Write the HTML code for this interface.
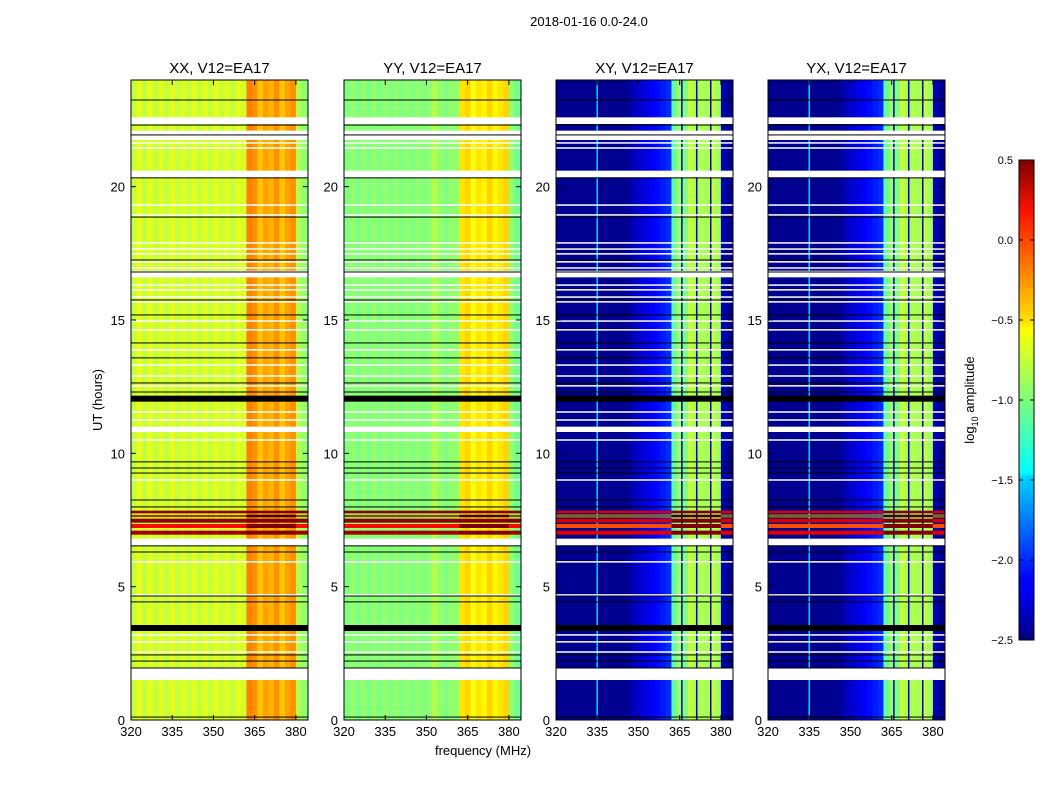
<!DOCTYPE html>
<html><head><meta charset="utf-8"><style>
body{margin:0;background:#fff;}
svg{display:block;font-family:"Liberation Sans",sans-serif;}
</style></head><body>
<svg id="fig" width="1050" height="800" viewBox="0 0 1050 800" xmlns="http://www.w3.org/2000/svg">
<defs>
<linearGradient id="jet" x1="0" y1="1" x2="0" y2="0">
<stop offset="0" stop-color="#00007f"/><stop offset="0.11" stop-color="#0000ff"/><stop offset="0.125" stop-color="#0000ff"/>
<stop offset="0.34" stop-color="#00d4ff"/><stop offset="0.35" stop-color="#0ff"/><stop offset="0.5" stop-color="#7dff7a"/>
<stop offset="0.65" stop-color="#ff0"/><stop offset="0.66" stop-color="#ffe600"/><stop offset="0.89" stop-color="#ff1300"/>
<stop offset="1" stop-color="#7f0000"/>
</linearGradient>
</defs>
<text x="589" y="26" font-size="13" text-anchor="middle">2018-01-16 0.0-24.0</text>
<text x="102" y="400" font-size="13" text-anchor="middle" transform="rotate(-90 102 400)">UT (hours)</text>
<text x="483" y="755" font-size="13" text-anchor="middle">frequency (MHz)</text>
<g id="panels"></g>
<g>
<rect x="1019" y="160" width="15" height="480" fill="url(#jet)" stroke="#000" stroke-width="1"/>
<g id="cbticks"></g>
<text x="974" y="400" font-size="13" text-anchor="middle" transform="rotate(-90 974 400)">log<tspan font-size="9" dy="4">10</tspan><tspan dy="-4"> amplitude</tspan></text>
</g>
</svg>
<script>
const NS="http://www.w3.org/2000/svg";
const panelTitles=["XX, V12=EA17","YY, V12=EA17","XY, V12=EA17","YX, V12=EA17"];
const freqBins=[320,322,324,326,328,330,332,334,336,338,340,342,344,346,348,350,352,354,356,358,360,362,364,366,368,370,372,374,376,378,380,382];
const profXX=[-0.8,-0.7,-0.8,-0.7,-0.8,-0.72,-0.8,-0.7,-0.8,-0.72,-0.8,-0.7,-0.8,-0.72,-0.8,-0.7,-0.78,-0.72,-0.8,-0.7,-0.75,-0.25,-0.3,-0.45,-0.35,-0.4,-0.3,-0.45,-0.35,-0.3,-0.85,-0.95];
const profYY=[-1.0,-0.95,-1.0,-0.95,-1.0,-0.95,-1.0,-0.95,-1.0,-0.95,-1.0,-0.95,-1.0,-0.95,-1.0,-0.95,-0.85,-0.95,-1.0,-0.95,-0.95,-0.55,-0.5,-0.65,-0.55,-0.6,-0.5,-0.6,-0.55,-0.5,-0.95,-1.05];
const profXY=[-2.45,-2.45,-2.45,-2.45,-2.45,-2.45,-2.45,-2.45,-2.45,-2.45,-2.45,-2.45,-2.45,-2.4,-2.3,-2.25,-2.2,-2.15,-2.1,-2.05,-2.0,-1.1,-0.9,-1.0,-0.8,-0.9,-0.85,-0.9,-0.8,-0.9,-2.35,-2.45];
const profYX=[-2.45,-2.45,-2.45,-2.45,-2.45,-2.45,-2.45,-2.45,-2.45,-2.45,-2.45,-2.45,-2.45,-2.4,-2.3,-2.25,-2.2,-2.15,-2.1,-2.05,-2.0,-1.1,-0.9,-1.0,-0.8,-0.9,-0.85,-0.9,-0.8,-0.9,-2.35,-2.45];
const crossLineFreq=[335,365.8,371.2,376.3];
const crossLineVal=[-1.5,-2.3,-2.3,-2.3];
const flareStart=[6.95,7.2,7.4,7.6,7.75];
const flareEnd=[7.1,7.35,7.55,7.7,7.85];
const flareVal=[0.4,0.1,0.45,-0.3,0.45];
const whiteGapStart=[1.5,6.55,10.8,16.6,20.35,21.75,22.35];
const whiteGapEnd=[1.95,6.8,11.0,16.85,20.6,22.1,22.6];
const whiteLines=[21.64,21.45,19.31,18.94,17.89,17.66,17.48,17.18,16.95,16.69,16.31,16.13,15.86,15.68,14.96,14.63,13.88,13.31,12.9,12.53,11.55,11.25,10.5,9.0,5.93,4.69,3.19,2.93,2.55];
const blackLines=[23.25,22.31,21.94,20.33,18.86,17.25,16.8,15.75,15.19,14.14,13.58,12.64,12.3,9.68,9.45,9.26,8.25,7.99,7.65,6.53,6.3,4.65,4.43,2.44,2.21,1.95,0.11];
const thickBlack=[12.05,3.45];
const xTicks=[320,335,350,365,380];
const yTicks=[0,5,10,15,20];
const cbTicks=[0.5,0.0,-0.5,-1.0,-1.5,-2.0,-2.5];
const profiles=[profXX,profYY,profXY,profYX];
const panelLeft=[131,344,556,768];
const PW=177,PT=80,PB=720,F0=320,F1=384.4,H1=24.0,VMIN=-2.5,VMAX=0.5;
function jet(v){let t=Math.max(0,Math.min(1,(v-VMIN)/(VMAX-VMIN)));
 const f=(x)=>Math.max(0,Math.min(1,x));
 const r=f(Math.min(4*t-1.5,-4*t+4.5)),g=f(Math.min(4*t-0.5,-4*t+3.5)),b=f(Math.min(4*t+0.5,-4*t+2.5));
 return `rgb(${Math.round(r*255)},${Math.round(g*255)},${Math.round(b*255)})`;}
function el(tag,attrs,parent){const e=document.createElementNS(NS,tag);for(const k in attrs)e.setAttribute(k,attrs[k]);parent.appendChild(e);return e;}
const root=document.getElementById('panels');
profiles.forEach((prof,p)=>{
 const L=panelLeft[p];
 const xs=f=>L+(f-F0)/(F1-F0)*PW;
 const ys=h=>PB-(h/H1)*(PB-PT);
 const g=el('g',{},root);
 
 
 prof.forEach((v,i)=>{
  const x0=xs(freqBins[i]),x1=i+1<freqBins.length?xs(freqBins[i+1]):L+PW;
  const r=el('rect',{x:x0,y:PT,width:x1-x0+0.5,height:PB-PT,fill:jet(v)},g);
  
  
 });
 if(p>=2){
  crossLineFreq.forEach((f,k)=>{
   const r=el('rect',{x:xs(f)-0.75,y:PT,width:1.5,height:PB-PT,fill:jet(crossLineVal[k])},g);
   
   
  });
 }
 flareStart.forEach((s,k)=>{
  prof.forEach((v,i)=>{
   const x0=xs(freqBins[i]),x1=i+1<freqBins.length?xs(freqBins[i+1]):L+PW;
   const inBand=freqBins[i]>=362&&freqBins[i]<380;
   const val=inBand?0.5:flareVal[k]-(p>=2?0.2:0);
   const r=el('rect',{x:x0,y:ys(flareEnd[k]),width:x1-x0+0.5,height:ys(s)-ys(flareEnd[k]),fill:jet(val)},g);
   
   
  });
 });
 whiteGapStart.forEach((s,k)=>{
  const r=el('rect',{x:L,y:ys(whiteGapEnd[k]),width:PW,height:ys(s)-ys(whiteGapEnd[k]),fill:'#fff'},g);
  
  
 });
 whiteLines.forEach(h=>{
  const r=el('rect',{x:L,y:ys(h)-0.75,width:PW,height:1.5,fill:'#fff'},g);
  
  
 });
 blackLines.forEach(h=>{
  const r=el('rect',{x:L,y:ys(h)-0.5,width:PW,height:1,fill:'#000'},g);
  
  
 });
 thickBlack.forEach(h=>{
  const r=el('rect',{x:L,y:ys(h)-3,width:PW,height:6,fill:'#000'},g);
  
  
 });
 const fr=el('rect',{x:L,y:PT,width:PW,height:PB-PT,fill:'none',stroke:'#000','stroke-width':1},g);
 
 
 const t=el('text',{x:L+PW/2,y:PT-7,'font-size':15,'text-anchor':'middle'},g);
 t.textContent=panelTitles[p];
 
 
 xTicks.forEach(f=>{
  const x=xs(f);
  el('line',{x1:x,y1:PB,x2:x,y2:PB-5,stroke:'#000'},g);
  el('line',{x1:x,y1:PT,x2:x,y2:PT+5,stroke:'#000'},g);
  const tl=el('text',{x:x,y:PB+16,'font-size':13,'text-anchor':'middle'},g);
  tl.textContent=f;
  
  
 });
 yTicks.forEach(h=>{
  const y=ys(h);
  el('line',{x1:L,y1:y,x2:L+5,y2:y,stroke:'#000'},g);
  el('line',{x1:L+PW,y1:y,x2:L+PW-5,y2:y,stroke:'#000'},g);
  const tl=el('text',{x:L-6,y:y+5,'font-size':13,'text-anchor':'end'},g);
  tl.textContent=h;
  
  
 });
});
const cb=document.getElementById('cbticks');
cbTicks.forEach(v=>{
 const y=640-(v-VMIN)/(VMAX-VMIN)*480;
 el('line',{x1:1019,y1:y,x2:1023,y2:y,stroke:'#000'},cb);
 el('line',{x1:1034,y1:y,x2:1030,y2:y,stroke:'#000'},cb);
 const tl=el('text',{x:1013,y:y+4,'font-size':11,'text-anchor':'end'},cb);
 tl.textContent=(v<0?'\u2212':'')+Math.abs(v).toFixed(1);
 
 
});
</script>
</body></html>
